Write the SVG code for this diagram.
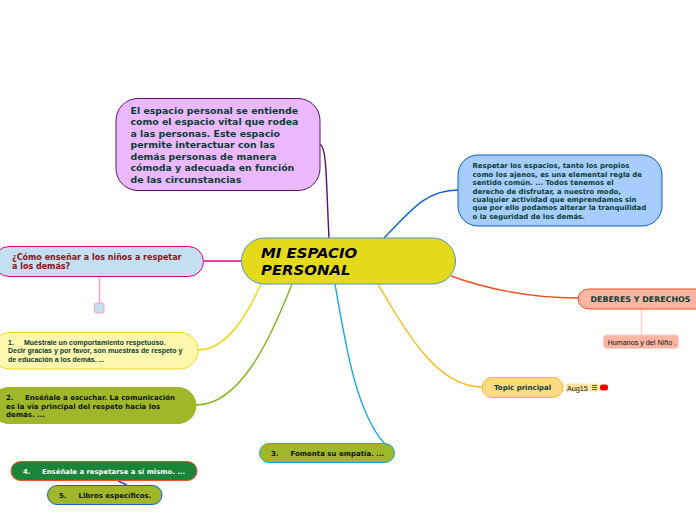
<svg xmlns="http://www.w3.org/2000/svg" width="696" height="520" viewBox="0 0 696 520">
<style>
text{font-family:"DejaVu Sans",Verdana,sans-serif;font-weight:700;fill:#0b3d33}
.c{fill:none;stroke-width:1.4}
.l{font-family:"Liberation Sans",Arial,sans-serif}
</style>
<rect width="696" height="520" fill="#fff"/>
<g id="connectors">
<path class="c" stroke="#5c0f6e" d="M320 144C327 148 326 180 329 238"/>
<path class="c" stroke="#0b5fd0" d="M384 238C410 212 425 190 458 190"/>
<path class="c" stroke="#f2501e" d="M451 276C490 290 530 298 578 298"/>
<path class="c" stroke="#fdb913" d="M378 284C410 340 440 387 482 387"/>
<path class="c" stroke="#13a9e8" d="M335 284C345 340 355 410 384 443"/>
<path class="c" stroke="#e6007e" d="M204 261L241 261"/>
<path class="c" stroke="#ecd91f" d="M198 350C225 350 245 320 261 284"/>
<path class="c" stroke="#80b51c" d="M196 405C240 405 270 340 292 284"/>
<path class="c" stroke="#ff9ec4" d="M99.500 277L99.500 303"/>
<path class="c" stroke="#ffcfc2" d="M641.500 309L641.500 335"/>
<path class="c" stroke="#0b5fd0" d="M118 481L127 485"/>
</g>
<g id="node-center"><rect x="241.500" y="238" width="214" height="46" rx="23" fill="#e5da1a" stroke="#4a97c9"/><text font-size="14.900" font-style="italic" style="fill:#000"><tspan x="261" y="258">MI ESPACIO</tspan><tspan x="261" y="275">PERSONAL</tspan></text></g>
<g id="node-definicion"><rect x="116" y="98.500" width="204" height="92" rx="22" fill="#ebb8fd" stroke="#5c0f6e"/><text font-size="9.400"><tspan x="130.500" y="114">El espacio personal se entiende</tspan><tspan x="130.500" y="125">como el espacio vital que rodea</tspan><tspan x="130.500" y="137">a las personas. Este espacio</tspan><tspan x="130.500" y="148">permite interactuar con las</tspan><tspan x="130.500" y="160">demás personas de manera</tspan><tspan x="130.500" y="171">cómoda y adecuada en función</tspan><tspan x="130.500" y="183">de las circunstancias</tspan></text></g>
<g id="node-respetar"><rect x="458" y="155" width="204" height="71" rx="20" fill="#a6cdfd" stroke="#0b5fd0"/><text font-size="6.950"><tspan x="472.500" y="168">Respetar los espacios, tanto los propios</tspan><tspan x="472.500" y="177">como los ajenos, es una elemental regla de</tspan><tspan x="472.500" y="185">sentido común. ... Todos tenemos el</tspan><tspan x="472.500" y="194">derecho de disfrutar, a nuestro modo,</tspan><tspan x="472.500" y="202">cualquier actividad que emprendamos sin</tspan><tspan x="472.500" y="210">que por ello podamos alterar la tranquilidad</tspan><tspan x="472.500" y="219">o la seguridad de los demás.</tspan></text></g>
<g id="node-como"><rect x="-6" y="246.500" width="209.500" height="30" rx="15" fill="#c4dff2" stroke="#e6007e"/><text font-size="8" style="fill:#8a1414"><tspan x="12" y="260">¿Cómo enseñar a los niños a respetar</tspan><tspan x="12" y="269">a los demás?</tspan></text></g>
<g id="node-vacio"><rect x="94.500" y="303" width="9.500" height="10" rx="2" fill="#c4dff2" stroke="#ff9ec4"/></g>
<g id="node-deberes"><path d="M700 289H589a11 10 0 0 0 -11 10a11 10 0 0 0 11 10H700Z" fill="#fdb6a4" stroke="#f2501e"/><text x="590.500" y="302" font-size="7.900">DEBERES Y DERECHOS</text></g>
<g id="node-humanos"><rect x="603.500" y="335" width="75" height="13.500" rx="3" fill="#fdb6a4" stroke="#ffcfc2"/><text x="607.500" y="344.500" font-size="7.200" class="l" style="font-weight:400;fill:#111">Humanos y del Niño .</text></g>
<g id="node-topic"><rect x="482" y="377.500" width="81" height="20" rx="10" fill="#ffda85" stroke="#fdb913"/><text x="494" y="390" font-size="7">Topic principal</text>
<rect x="566" y="383.500" width="23" height="8" rx="1.500" fill="#ffe6a0"/><text x="567" y="390.500" font-size="7.200" class="l" style="font-weight:400;fill:#222">Aug15</text>
<rect x="590" y="383.500" width="9" height="8" rx="1" fill="#ffe6a0"/><path d="M592 385.500h5M592 387.500h5M592 389.500h5" stroke="#333" stroke-width="0.800" fill="none"/>
<rect x="600" y="384.500" width="8" height="6" rx="2" fill="#f00"/><circle cx="604" cy="387.500" r="1" fill="#700"/></g>
<g id="node-1"><rect x="-8" y="332.500" width="206" height="36.500" rx="18" fill="#fff7ae" stroke="#ecd91f"/><text font-size="7" class="l"><tspan x="8" y="345">1.</tspan><tspan x="24" y="345">Muéstrale un comportamiento respetuoso.</tspan><tspan x="8" y="353">Decir gracias y por favor, son muestras de respeto y</tspan><tspan x="8" y="362">de educación a los demás. ...</tspan></text></g>
<g id="node-2"><rect x="-9" y="387.500" width="205" height="36" rx="18" fill="#9fb82a" stroke="#9fb82a"/><text font-size="7" style="fill:#111"><tspan x="6" y="400">2.</tspan><tspan x="25" y="400">Enséñale a escuchar. La comunicación</tspan><tspan x="6" y="409">es la vía principal del respeto hacia los</tspan><tspan x="6" y="417">demás. ...</tspan></text></g>
<g id="node-3"><rect x="259.500" y="443.500" width="135" height="19" rx="9.500" fill="#9fb82a" stroke="#13a9e8"/><text font-size="7" style="fill:#111"><tspan x="271" y="456">3.</tspan><tspan x="290.500" y="456">Fomenta su empatía. ...</tspan></text></g>
<g id="node-4"><rect x="11" y="461.500" width="186" height="19" rx="9.500" fill="#1a8438" stroke="#f2501e"/><text font-size="6.900" style="fill:#fff"><tspan x="23" y="474">4.</tspan><tspan x="42" y="474">Enséñale a respetarse a sí mismo. ...</tspan></text></g>
<g id="node-5"><rect x="47.500" y="485.500" width="114.500" height="19" rx="9.500" fill="#9fb82a" stroke="#0b5fd0"/><text font-size="7" style="fill:#111"><tspan x="59" y="498">5.</tspan><tspan x="78.500" y="498">Libros específicos.</tspan></text></g>
</svg>
